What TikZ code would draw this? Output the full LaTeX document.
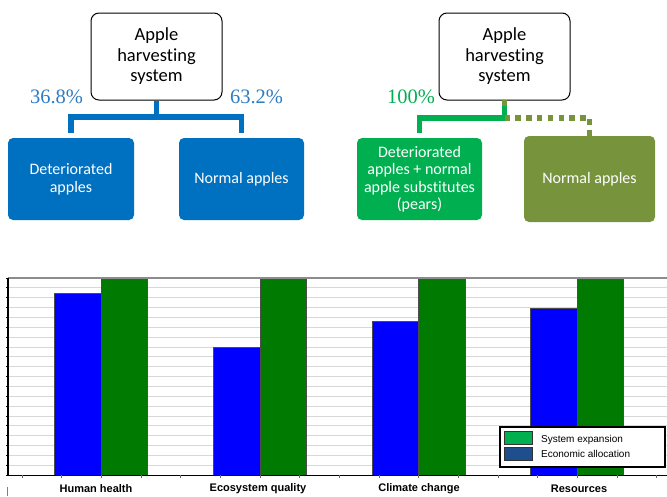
\documentclass[tikz,border=0pt]{standalone}
\usepackage{fontspec}
\setmainfont[Ligatures=NoCommon]{Carlito}
\newfontfamily\serifnum{Liberation Serif}
\newfontfamily\arialf{Liberation Sans}
\usetikzlibrary{calc}
\definecolor{boxblue}{HTML}{0070C0}
\definecolor{pctblue}{HTML}{2E7CC4}
\definecolor{boxgreen}{HTML}{00B050}
\definecolor{boxolive}{HTML}{77933C}
\definecolor{barblue}{HTML}{0000FF}
\definecolor{bargreen}{HTML}{007A00}
\definecolor{leggreen}{HTML}{00B050}
\definecolor{legblue}{HTML}{1F4E8C}
\definecolor{gridgray}{HTML}{D8D8D8}
\tikzset{
  rootbox/.style={draw=black, line width=1pt, rounded corners=8pt, fill=white,
    minimum width=131pt, minimum height=87pt, align=center, inner sep=0pt,
    font=\fontsize{18.5}{20.5}\selectfont},
  leafbox/.style={rounded corners=5pt, text=white, align=center, inner sep=0pt,
    font=\fontsize{16}{17.5}\selectfont},
  pct/.style={font=\serifnum\fontsize{20.5}{22}\selectfont, inner sep=0pt},
  blueconn/.style={draw=boxblue, line width=5.5pt, line join=miter},
  greenconn/.style={draw=boxgreen, line width=5.5pt, line join=miter},
  oliveconn/.style={draw=boxolive, line width=5.5pt, dash pattern=on 5.5pt off 5.3pt},
  barA/.style={fill=barblue, draw=black!70, line width=0.5pt},
  barB/.style={fill=bargreen, draw=black!70, line width=0.5pt},
  catlabel/.style={font=\arialf\bfseries\fontsize{11}{12}\selectfont, inner sep=0pt},
  legtext/.style={font=\arialf\fontsize{10}{11}\selectfont, inner sep=0pt, anchor=west},
  swatch/.style={draw=black!80, line width=0.6pt, minimum width=28pt, minimum height=13pt, inner sep=0pt}
}
\begin{document}
\begin{tikzpicture}[x=1pt,y=-1pt]
\useasboundingbox (0,0) rectangle (667,496);
% ---------- left tree ----------
\node[rootbox] (root1) at (156.5,56.5) {Apple\\harvesting\\system};
\node[leafbox, fill=boxblue, minimum width=126pt, minimum height=82pt] (det1) at (71,179) {Deteriorated\\apples};
\node[leafbox, fill=boxblue, minimum width=125pt, minimum height=82pt] (norm1) at (241.5,179) {Normal apples};
\node[pct, text=pctblue] (p1) at (56.5,97) {36.8\%};
\node[pct, text=pctblue] (p2) at (256.5,97) {63.2\%};
\coordinate (j1) at (156.5,117);
\draw[blueconn] (root1.south) -- (j1);
\draw[blueconn, shorten >=5pt] (j1) -| (det1.north);
\draw[blueconn, shorten >=5pt] (j1) -| (norm1.north);
% ---------- right tree ----------
\node[rootbox] (root2) at (504.5,56.5) {Apple\\harvesting\\system};
\node[leafbox, fill=boxgreen, minimum width=125pt, minimum height=82pt] (det2) at (419.5,179) {Deteriorated\\apples + normal\\apple substitutes\\(pears)};
\node[leafbox, fill=boxolive, minimum width=131pt, minimum height=86pt] (norm2) at (589.5,179) {Normal apples};
\node[pct, text=boxgreen] (p3) at (411,97) {100\%};
\coordinate (j2) at (504.5,118);
\draw[greenconn] (root2.south) -- (j2);
\draw[greenconn, shorten >=5pt] (j2) -| (det2.north);
\draw[oliveconn] ($(root2.south)+(0,-0.5)$) -- ($(root2.south)+(0,7)$);
\draw[oliveconn] (j2) -| (norm2.north);
% ---------- chart ----------
\foreach \i in {1,...,19} {
  \draw[gridgray, line width=0.8pt] (8,{278+\i*9.85}) -- (667,{278+\i*9.85});
}
\draw[black!45, line width=1.5pt] (8,278) -- (667,278);
% bars
\foreach \c/\hb in {101/293, 260/347, 418.5/321, 577/308} {
  \draw[barA] ({\c-46.5},475) rectangle (\c,\hb);
  \draw[barB] (\c,475) rectangle ({\c+46.5},279);
}
% axes
\draw[black, line width=1.4pt] (8,278) -- (8,475);
\foreach \i in {0,...,20} {
  \draw[black, line width=0.8pt] (6,{278+\i*9.85}) -- (8,{278+\i*9.85});
}
\draw[black, line width=1pt] (7.5,475) -- (667,475);
\foreach \k in {0,...,16} {
  \draw[black!60, line width=0.5pt] ({22+\k*39.67},475) -- ({22+\k*39.67},478);
}
\draw[black!50, line width=0.6pt] (7,487) -- (7,496);
% category labels
\node[catlabel] (c1) at (96,489) {Human health};
\node[catlabel] (c2) at (258,489) {Ecosystem quality};
\node[catlabel] (c3) at (419,489) {Climate change};
\node[catlabel] (c4) at (579,489) {Resources};
% legend
\draw[black, line width=1.2pt, fill=white] (500,427) rectangle (665,467);
\node[swatch, fill=leggreen] (s1) at (518,437.5) {};
\node[swatch, fill=legblue] (s2) at (518,454) {};
\node[legtext] (l1) at (541,440) {System expansion};
\node[legtext] (l2) at (541,454) {Economic allocation};
\end{tikzpicture}
\end{document}
